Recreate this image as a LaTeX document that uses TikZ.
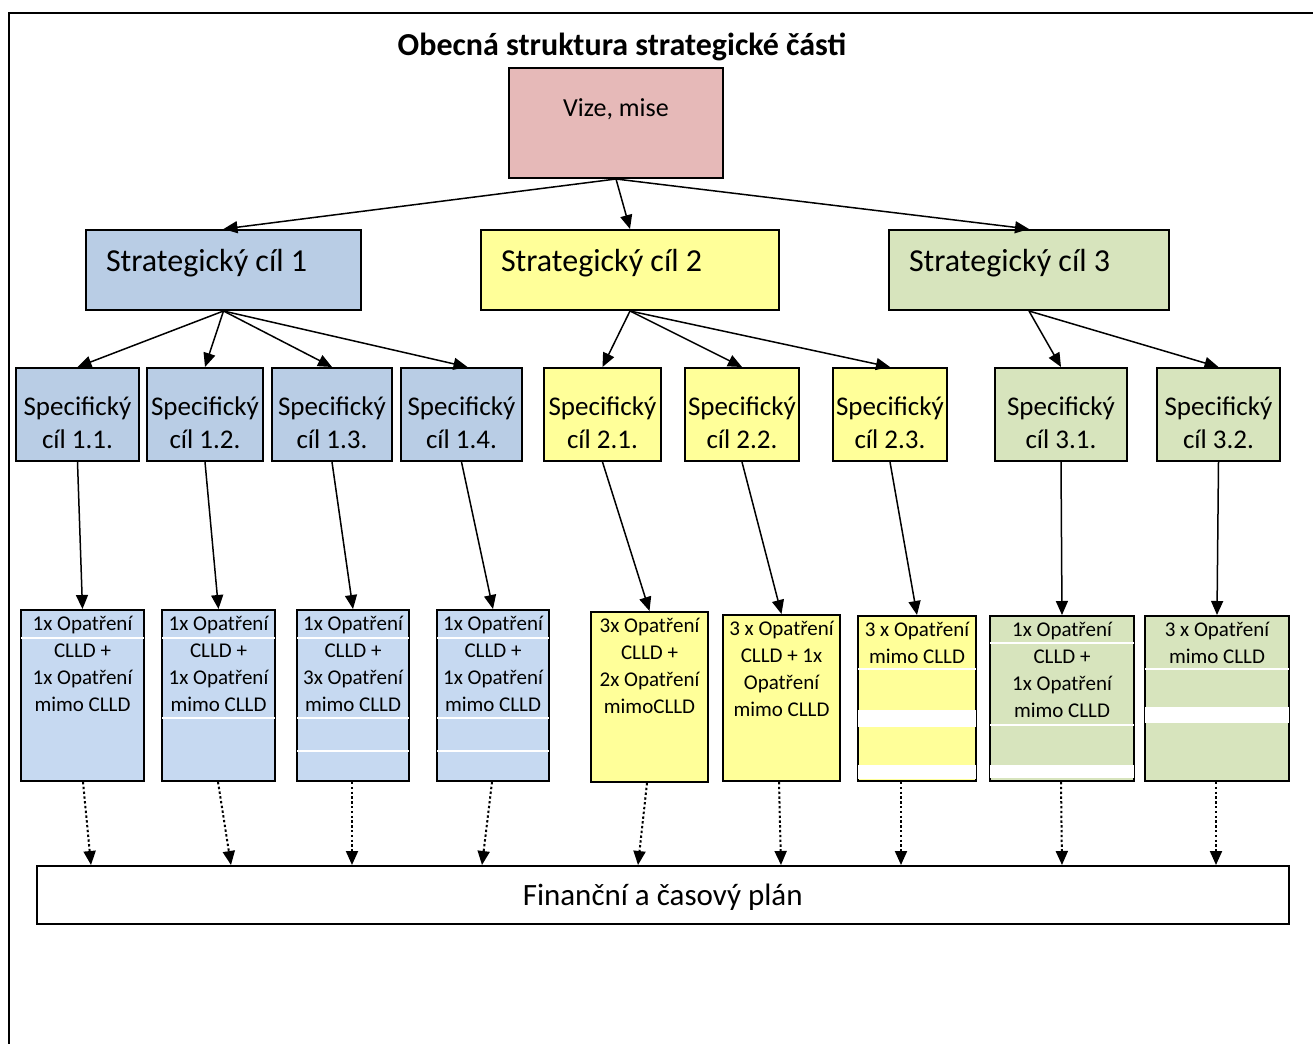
\documentclass[tikz,border=0pt]{standalone}
\usepackage{fontspec}
\setmainfont{Carlito}
\usetikzlibrary{arrows.meta, calc, positioning}
\definecolor{ruzova}{HTML}{E6B9B8}
\definecolor{modra}{HTML}{B9CDE5}
\definecolor{svmodra}{HTML}{C6D9F1}
\definecolor{zluta}{HTML}{FFFF99}
\definecolor{zelena}{HTML}{D7E4BD}

\begin{document}
\begin{tikzpicture}[x=0.5pt, y=-0.5pt,
    box/.style={draw, line width=1pt, inner sep=0pt, anchor=north west},
    sc/.style={box, text width=#1, inner xsep=10pt, minimum height=40pt, align=flush left,
      execute at begin node={\spaceskip=0pt\xspaceskip=0pt\relax},
      text height=12pt, text depth=11pt, font=\fontsize{16}{19}\selectfont},
    spec/.style={box, minimum width=#1, minimum height=46.5pt, align=center,
      text height=34pt, text depth=0.5pt, font=\fontsize{13.5}{16.5}\selectfont},
    mb/.style={box, minimum width=#1, align=center,
      font=\fontsize{10.5}{13.5}\selectfont},
    sip/.style={-{Triangle[length=7pt, width=6pt]}, line width=0.75pt},
    tecky/.style={sip, line width=1pt, dash pattern=on 1.2pt off 1.2pt},
    sep/.style={white, line width=1pt}]
  \useasboundingbox (0,0) rectangle (1313,1044);
  \draw[line width=1.2pt] (9,1044) -- (9,13) -- (1313,13);

  \draw node[font=\fontsize{16}{19}\selectfont\bfseries, anchor=base] (titul) at (622,55) {Obecná struktura strategické části};
  \draw node[box, fill=ruzova, minimum width=107pt, minimum height=55pt, text height=8pt, text depth=15pt,
    font=\fontsize{13}{16}\selectfont] (vize) at (508,67) {Vize, mise};

  % strategicke cile
  \draw node[sc=117.5pt, fill=modra] (sc1) at (85,229) {Strategický cíl 1};
  \draw node[sc=129pt, fill=zluta] (sc2) at (480,229) {Strategický cíl 2};
  \draw node[sc=120pt, fill=zelena] (sc3) at (888,229) {Strategický cíl 3};

  % specificke cile
  \foreach \n/\x/\w/\c/\t in {11/15/61.5/modra/1.1., 12/146/58/modra/1.2., 13/271/60/modra/1.3., 14/400/60.5/modra/1.4.,
      21/543/58.5/zluta/2.1., 22/684/57/zluta/2.2., 23/832/57/zluta/2.3., 31/994/66/zelena/3.1., 32/1156/61.5/zelena/3.2.}
    \draw node[spec=\w pt, fill=\c] (s\n) at (\x,367) {Specifický\\cíl \t};

  % opatreni
  \draw node[mb=61.5pt, text height=50.5pt, text depth=35pt, fill=svmodra] (m11) at (20,609) {1x Opatření\\CLLD +\\1x Opatření\\mimo CLLD};
  \draw node[mb=56.5pt, text height=50.5pt, text depth=35pt, fill=svmodra] (m12) at (161,609) {1x Opatření\\CLLD +\\1x Opatření\\mimo CLLD};
  \draw node[mb=56pt, text height=50.5pt, text depth=35pt, fill=svmodra] (m13) at (296,609) {1x Opatření\\CLLD +\\3x Opatření\\mimo CLLD};
  \draw node[mb=56pt, text height=50.5pt, text depth=35pt, fill=svmodra] (m14) at (436,609) {1x Opatření\\CLLD +\\1x Opatření\\mimo CLLD};
  \draw node[mb=58.5pt, text height=50.5pt, text depth=34.5pt, fill=zluta] (m21) at (590,611) {3x Opatření\\CLLD +\\2x Opatření\\mimoCLLD};
  \draw node[mb=58.5pt, text height=50.5pt, text depth=32.5pt, fill=zluta] (m22) at (722,614) {3 x Opatření\\CLLD + 1x\\Opatření\\mimo CLLD};
  \draw node[mb=59pt, text height=23.5pt, text depth=59pt, fill=zluta] (m23) at (857,615) {3 x Opatření\\mimo CLLD};
  \draw node[mb=72pt, text height=50.5pt, text depth=32pt, fill=zelena] (m31) at (989,615) {1x Opatření\\CLLD +\\1x Opatření\\mimo CLLD};
  \draw node[mb=72pt, text height=23.5pt, text depth=59pt, fill=zelena] (m32) at (1144,615) {3 x Opatření\\mimo CLLD};

  \foreach \m/\o in {m11/29, m12/29, m12/109, m13/29, m13/109, m13/142, m14/29, m14/109, m14/142, m23/54, m31/28, m31/110, m32/54}
    \draw[sep] ($(\m.north west)+(1.2,\o)$) -- ($(\m.north east)+(-1.2,\o)$);
  \foreach \m/\o/\u in {m23/95/112, m23/150/164, m31/150/163, m32/92/108}
    \fill[white] ($(\m.north west)+(1.2,\o)$) rectangle ($(\m.north east)+(-1.2,\u)$);

  \draw node[box, line width=0.75pt, minimum width=626pt, minimum height=29pt, text height=12pt, text depth=1pt,
    font=\fontsize{15.5}{18}\selectfont] (plan) at (36,865) {Finanční a časový plán};

  % sipky
  \foreach \a/\b in {vize/sc1, vize/sc2, vize/sc3, sc1/s11, sc1/s12, sc1/s13, sc2/s21, sc2/s22, sc2/s23,
      sc3/s31, sc3/s32, s11/m11, s12/m12, s13/m13, s14/m14, s21/m21, s22/m22, s23/m23, s31/m31, s32/m32}
    \draw[sip] (\a.south) -- (\b.north);
  \draw[sip] (sc1.south) -- ([xshift=3pt]s14.north);
  \foreach \m/\a/\b in {m11/83/91, m12/218/231, m13/352/352, m14/492/482, m21/647/638, m22/779/781,
      m23/901/901, m31/1061/1062, m32/1216/1216}
    \draw[tecky] (\a,0 |- \m.south) -- (\b,0 |- plan.north);
\end{tikzpicture}
\end{document}
